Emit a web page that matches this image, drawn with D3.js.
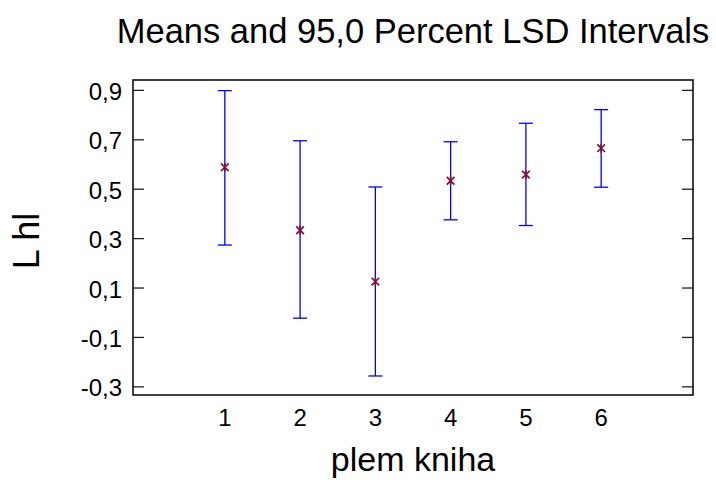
<!DOCTYPE html>
<html lang="en">
<head>
  <meta charset="UTF-8">
  <title>Means and 95,0 Percent LSD Intervals</title>
  <script src="https://d3js.org/d3.v7.min.js"></script>
  <style>
    body {
      margin: 0;
      padding: 0;
      background: #fff;
      overflow: hidden;
    }
    svg text {
      font-family: "Liberation Sans", Arial, sans-serif;
      fill: #000;
    }
  </style>
</head>
<body>
  <svg id="chart" width="716" height="480"></svg>

  <script>
    const categories = [1, 2, 3, 4, 5, 6];
    const means = [0.587, 0.332, 0.124, 0.532, 0.557, 0.664];
    const lower = [0.272, -0.024, -0.258, 0.374, 0.351, 0.506];
    const upper = [0.897, 0.694, 0.507, 0.690, 0.765, 0.820];
    const yTicks = [-0.3, -0.1, 0.1, 0.3, 0.5, 0.7, 0.9];

    const width = 716, height = 480;
    const margin = {top: 80, right: 23, bottom: 85, left: 133};

    const svg = d3.select("#chart");

    const x = d3.scaleLinear()
      .domain([-0.22, 7.22])
      .range([margin.left, width - margin.right]);
    const y = d3.scaleLinear()
      .domain([-0.335, 0.94])
      .range([height - margin.bottom, margin.top]);

    // comma as decimal mark, plain hyphen as minus
    const fmt = d3.formatLocale({decimal: ",", thousands: " ", grouping: [3],
                                 currency: ["", ""], minus: "-"})
                  .format(".1f");

    // title
    svg.append("text")
      .attr("x", (margin.left + width - margin.right) / 2)
      .attr("y", 43)
      .attr("text-anchor", "middle")
      .style("font-size", "34.5px")
      .text("Means and 95,0 Percent LSD Intervals");

    // y axis left (ticks inward)
    const yAxisL = svg.append("g")
      .attr("transform", `translate(${margin.left},0)`)
      .call(d3.axisRight(y).tickValues(yTicks).tickSize(11).tickFormat(""));
    yAxisL.select(".domain").remove();
    yAxisL.selectAll("line").attr("stroke", "#222").attr("stroke-width", 1.3);

    // y axis right (ticks inward)
    const yAxisR = svg.append("g")
      .attr("transform", `translate(${width - margin.right},0)`)
      .call(d3.axisLeft(y).tickValues(yTicks).tickSize(11).tickFormat(""));
    yAxisR.select(".domain").remove();
    yAxisR.selectAll("line").attr("stroke", "#222").attr("stroke-width", 1.3);

    // y tick labels
    svg.append("g").selectAll("text")
      .data(yTicks).join("text")
      .attr("x", margin.left - 11)
      .attr("y", d => y(d))
      .attr("dy", "0.42em")
      .attr("text-anchor", "end")
      .style("font-size", "24px")
      .text(d => fmt(d));

    // x tick labels (no tick marks)
    svg.append("g").selectAll("text")
      .data(categories).join("text")
      .attr("x", d => x(d))
      .attr("y", 426)
      .attr("text-anchor", "middle")
      .style("font-size", "24px")
      .text(d => d);

    // frame
    svg.append("rect")
      .attr("x", margin.left)
      .attr("y", margin.top)
      .attr("width", width - margin.left - margin.right)
      .attr("height", height - margin.top - margin.bottom)
      .attr("fill", "none")
      .attr("stroke", "#000")
      .attr("stroke-width", 1.5);

    // interval bars
    const bars = svg.append("g")
      .attr("stroke", "#0000ff")
      .attr("stroke-width", 1.3);
    categories.forEach((c, i) => {
      const cx = x(c);
      bars.append("line")
        .attr("x1", cx).attr("x2", cx)
        .attr("y1", y(lower[i])).attr("y2", y(upper[i]));
      bars.append("line")
        .attr("x1", cx - 7).attr("x2", cx + 7)
        .attr("y1", y(upper[i])).attr("y2", y(upper[i]));
      bars.append("line")
        .attr("x1", cx - 7).attr("x2", cx + 7)
        .attr("y1", y(lower[i])).attr("y2", y(lower[i]));
    });

    // mean markers: asterisk (x + vertical)
    const star = d3.symbol().type(d3.symbolX).size(40);
    const pts = svg.append("g")
      .attr("fill", "none")
      .attr("stroke", "#80103f")
      .attr("stroke-width", 1.7);
    categories.forEach((c, i) => {
      pts.append("path")
        .attr("transform", `translate(${x(c)},${y(means[i])})`)
        .attr("d", star());
      pts.append("line")
        .attr("x1", x(c)).attr("x2", x(c))
        .attr("y1", y(means[i]) - 4.5).attr("y2", y(means[i]) + 4.5);
    });

    // axis titles
    svg.append("text")
      .attr("x", (margin.left + width - margin.right) / 2)
      .attr("y", 471)
      .attr("text-anchor", "middle")
      .style("font-size", "34px")
      .text("plem kniha");

    svg.append("text")
      .attr("transform", "translate(39,241) rotate(-90)")
      .attr("text-anchor", "middle")
      .style("font-size", "36px")
      .text("L hl");
  </script>
</body>
</html>
